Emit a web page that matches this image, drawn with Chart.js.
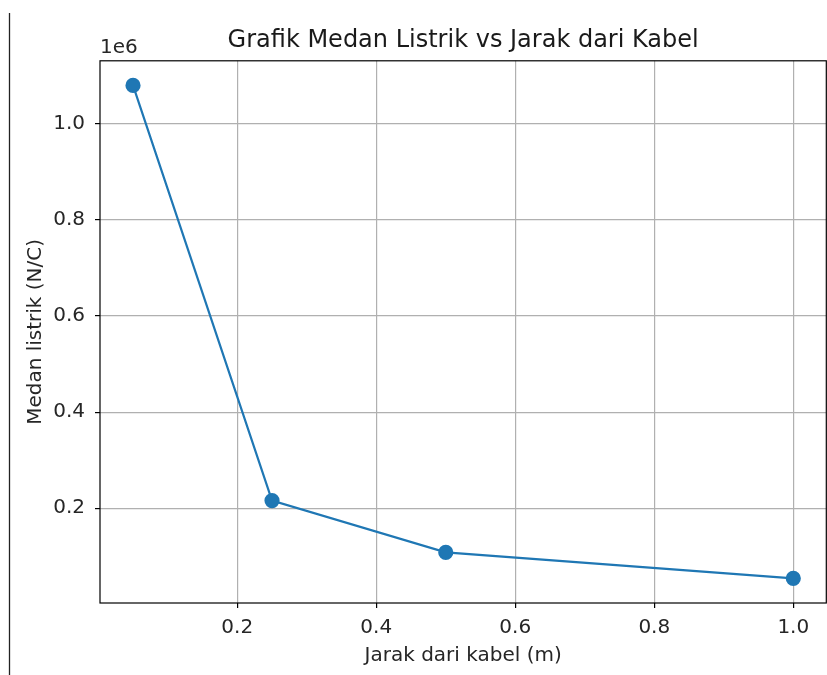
<!DOCTYPE html>
<html>
<head>
<meta charset="utf-8">
<script src="https://cdn.jsdelivr.net/npm/chart.js@4"></script>
<style>
  html, body { margin: 0; padding: 0; background: #fff; overflow: hidden; }
</style>
</head>
<body>
<canvas id="chart" width="835" height="675"></canvas>
<script>
// Jarak (m) dan medan listrik (N/C)
const jarak = [0.05, 0.25, 0.5, 1.0]
const medan = [1.08e6, 0.216e6, 0.108e6, 0.054e6]
const xTicks = [0.2, 0.4, 0.6, 0.8, 1.0]
const yTicks = [0.2e6, 0.4e6, 0.6e6, 0.8e6, 1.0e6]

const FONT = "'DejaVu Sans', sans-serif"

// bingkai penuh, garis kiri dan label offset "1e6"
const extras = {
    id: 'extras',
    afterDraw(chart) {
        const ctx = chart.ctx
        const a = chart.chartArea
        ctx.save()
        ctx.strokeStyle = '#000'
        ctx.lineWidth = 1.2
        ctx.strokeRect(a.left, a.top, a.right - a.left, a.bottom - a.top)
        ctx.strokeStyle = '#222'
        ctx.lineWidth = 1.3
        ctx.beginPath()
        ctx.moveTo(9.5, 13)
        ctx.lineTo(9.5, 675)
        ctx.stroke()
        ctx.fillStyle = '#262626'
        ctx.font = '20px ' + FONT
        ctx.textBaseline = 'alphabetic'
        ctx.textAlign = 'left'
        ctx.fillText('1e6', a.left, a.top - 8)
        ctx.restore()
    }
}

const data = {
    datasets: [{
        label: 'Medan listrik',
        data: jarak.map((x, i) => ({x: x, y: medan[i]})),
        borderColor: '#1f77b4',
        backgroundColor: '#1f77b4',
        borderWidth: 2.2,
        pointRadius: 6.5,
        pointHoverRadius: 6.5,
        showLine: true,
        tension: 0
    }]
}

const options = {
    responsive: false,
    animation: false,
    layout: { padding: 0 },
    plugins: {
        legend: { display: false },
        tooltip: { enabled: false },
        title: {
            display: true,
            text: 'Grafik Medan Listrik vs Jarak dari Kabel',
            fullSize: false,
            color: '#1a1a1a',
            font: { family: FONT, size: 24, weight: 'normal' },
            padding: { top: 26, bottom: 6 }
        }
    },
    scales: {
        x: {
            type: 'linear',
            min: 0.0025,
            max: 1.0475,
            afterFit(s) { s.height = 72 },
            afterBuildTicks(s) { s.ticks = xTicks.map(v => ({value: v})) },
            ticks: {
                color: '#262626',
                padding: 8,
                maxRotation: 0,
                font: { family: FONT, size: 20 },
                callback: v => v.toFixed(1)
            },
            grid: { color: '#b0b0b0', lineWidth: 1.2, tickColor: '#000', tickLength: 5 },
            border: { display: false },
            title: {
                display: true,
                text: 'Jarak dari kabel (m)',
                color: '#262626',
                font: { family: FONT, size: 20 },
                padding: { top: 0, bottom: 7 }
            }
        },
        y: {
            type: 'linear',
            min: 0.0027e6,
            max: 1.1313e6,
            afterFit(s) { s.width = 100 },
            afterBuildTicks(s) { s.ticks = yTicks.map(v => ({value: v})) },
            ticks: {
                color: '#262626',
                padding: 10,
                font: { family: FONT, size: 20 },
                callback: v => (v / 1e6).toFixed(1)
            },
            grid: { color: '#b0b0b0', lineWidth: 1.2, tickColor: '#000', tickLength: 5 },
            border: { display: false },
            title: {
                display: true,
                text: 'Medan listrik (N/C)',
                color: '#262626',
                font: { family: FONT, size: 20 },
                padding: { top: 24, bottom: 0 }
            }
        }
    }
}

new Chart(document.getElementById('chart'), {
    type: 'scatter',
    data: data,
    options: options,
    plugins: [extras]
})
</script>
</body>
</html>
